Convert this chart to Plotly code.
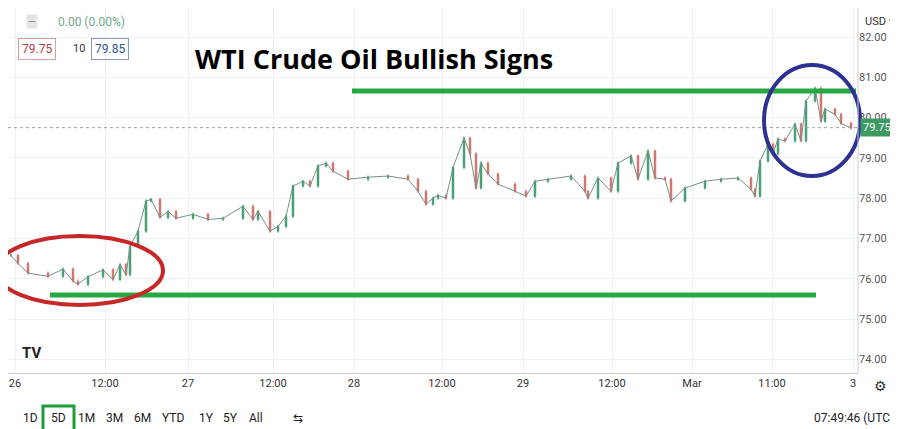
import plotly.graph_objects as go

# position along the time axis (chart units) and close prices
t_pos = [3,10,20,40,55,65,70,80,95,105,112,118,122,130,138,143,152,160,168,185,200,215,235,245,250,262,270,278,285,295,302,310,318,325,340,360,380,400,410,418,425,430,438,445,456,462,468,473,480,490,507,518,527,540,563,577,580,590,603,610,623,630,640,647,657,663,677,697,713,730,743,747,752,760,765,770,777,787,793,798,807,813,817,827,833,843]
close = [76.58,76.38,76.14,76.06,76.24,75.94,75.86,76.05,76.22,75.98,76.35,76.10,76.80,77.18,77.93,77.97,77.52,77.67,77.50,77.60,77.47,77.50,77.80,77.47,77.67,77.18,77.30,77.55,78.30,78.42,78.30,78.80,78.87,78.67,78.47,78.52,78.55,78.47,78.17,77.85,78.00,78.07,78.00,78.76,79.49,79.10,78.25,78.87,78.60,78.35,78.17,78.05,78.42,78.47,78.55,78.17,78.00,78.50,78.17,78.87,79.05,78.47,79.17,78.50,78.47,77.93,78.25,78.42,78.47,78.50,78.22,78.05,78.92,79.34,79.10,79.47,79.42,79.84,79.42,80.41,80.73,79.91,80.21,80.08,79.86,79.74]

tick_pos = [7,97,180,265,346,434,515,604,684,764,845]
tick_lbl = ["26","12:00","27","12:00","28","12:00","29","12:00","Mar","11:00","3"]
price_ticks = [74,75,76,77,78,79,80,81,82]

opens = [close[0]] + close[:-1]
highs = [max(o, c) + 0.04 for o, c in zip(opens, close)]
lows = [min(o, c) - 0.04 for o, c in zip(opens, close)]

fig = go.Figure()
fig.add_trace(go.Scatter(x=t_pos, y=close, mode="lines", line=dict(color="#7a8f84", width=1),
                         showlegend=False, hoverinfo="skip"))
fig.add_trace(go.Candlestick(
    x=t_pos, open=opens, high=highs, low=lows, close=close,
    increasing=dict(line=dict(color="#3f9a6e", width=1), fillcolor="#3f9a6e"),
    decreasing=dict(line=dict(color="#c9706a", width=1), fillcolor="#c9706a"),
    whiskerwidth=0, showlegend=False, hoverinfo="skip"))

W, H = 850, 365
def px(x): return x / W
def py(y): return 1 - y / H

shapes = [
    dict(type="line", xref="paper", yref="y", x0=0, x1=1, y0=79.75, y1=79.75,
         line=dict(color="#9aa0a8", width=1, dash="dot")),
    dict(type="line", xref="paper", yref="paper", x0=px(344), x1=px(848), y0=py(83), y1=py(83),
         line=dict(color="#28a745", width=5)),
    dict(type="line", xref="paper", yref="paper", x0=px(42), x1=px(427), y0=py(287), y1=py(287),
         line=dict(color="#28a745", width=5)),
    dict(type="line", xref="paper", yref="paper", x0=px(427), x1=px(808), y0=py(287), y1=py(287),
         line=dict(color="#28a745", width=5)),
    dict(type="circle", xref="paper", yref="paper", x0=px(-12), x1=px(155), y0=py(297), y1=py(228),
         line=dict(color="#c62828", width=4)),
    dict(type="circle", xref="paper", yref="paper", x0=px(756), x1=px(852), y0=py(168), y1=py(57),
         line=dict(color="#2e3192", width=4)),
    dict(type="line", xref="paper", yref="paper", x0=1, x1=1, y0=0, y1=1,
         line=dict(color="#c8ccd4", width=1)),
]

P = dict(xref="paper", yref="paper", showarrow=False)
ann = [
    dict(text="<b>WTI Crude Oil Bullish Signs</b>", x=px(185), y=py(50), xanchor="left", yanchor="middle",
         font=dict(size=27, color="#000", family="Open Sans"), **P),
    dict(text="0.00 (0.00%)", x=px(48), y=py(14), xanchor="left", yanchor="middle",
         font=dict(size=12, color="#6fa88a"), **P),
    dict(text="—", x=px(24), y=py(14), xanchor="center", yanchor="middle",
         font=dict(size=10, color="#888"), bgcolor="#e6e6e6", **P),
    dict(text="79.75", x=px(10), y=py(41), xanchor="left", yanchor="middle", bordercolor="#d9a0a0",
         borderwidth=1, borderpad=3, font=dict(size=12, color="#b04040"), **P),
    dict(text="10", x=px(63), y=py(41), xanchor="left", yanchor="middle",
         font=dict(size=11, color="#333"), **P),
    dict(text="79.85", x=px(83), y=py(41), xanchor="left", yanchor="middle", bordercolor="#8899bb",
         borderwidth=1, borderpad=3, font=dict(size=12, color="#33558a"), **P),
    dict(text="USD ▾", x=px(855), y=py(14), xanchor="left", yanchor="middle",
         font=dict(size=11, color="#333"), **P),
    dict(text="79.75", x=px(852), y=79.75, xref="paper", yref="y", xanchor="left", yanchor="middle",
         bgcolor="#3d9a62", font=dict(size=11, color="#fff"), showarrow=False, borderpad=2),
    dict(text="<b>TV</b>", x=px(12), y=py(345), xanchor="left", yanchor="middle",
         font=dict(size=15, color="#222"), **P),
    dict(text="⚙", x=px(872), y=py(378), xanchor="center", yanchor="middle",
         font=dict(size=14, color="#333"), **P),
    dict(text="07:49:46 (UTC)", x=px(888), y=py(410), xanchor="right", yanchor="middle",
         font=dict(size=12, color="#222"), **P),
]
btns = [("1D",22),("5D",50),("1M",78),("3M",106),("6M",134),("YTD",165),("1Y",198),("5Y",222),("All",248),("⇆",290)]
for b, x in btns:
    ann.append(dict(text=b, x=px(x), y=py(410), xanchor="center", yanchor="middle",
                    font=dict(size=12, color="#222"), **P))
shapes.append(dict(type="rect", xref="paper", yref="paper", x0=px(35), x1=px(66), y0=py(398), y1=py(423),
                   line=dict(color="#1f9c3a", width=3)))

fig.update_layout(
    width=898, height=429, margin=dict(l=0, r=48, t=0, b=64),
    paper_bgcolor="#fff", plot_bgcolor="#fff",
    font=dict(family="Roboto", color="#444"),
    shapes=shapes, annotations=ann,
    xaxis=dict(range=[0, 850], tickvals=tick_pos, ticktext=tick_lbl, showgrid=True, gridcolor="#eef0f4",
               rangeslider=dict(visible=False), zeroline=False, ticks="", tickfont=dict(size=11, color="#333"),
               showline=True, linecolor="#c8ccd4"),
    yaxis=dict(range=[73.66, 82.72], side="right", tickvals=price_ticks,
               ticktext=[f"{v:.2f}" for v in price_ticks], showgrid=True, gridcolor="#eef0f4",
               zeroline=False, ticks="", tickfont=dict(size=11, color="#555")),
)
fig.write_html("out.html")
